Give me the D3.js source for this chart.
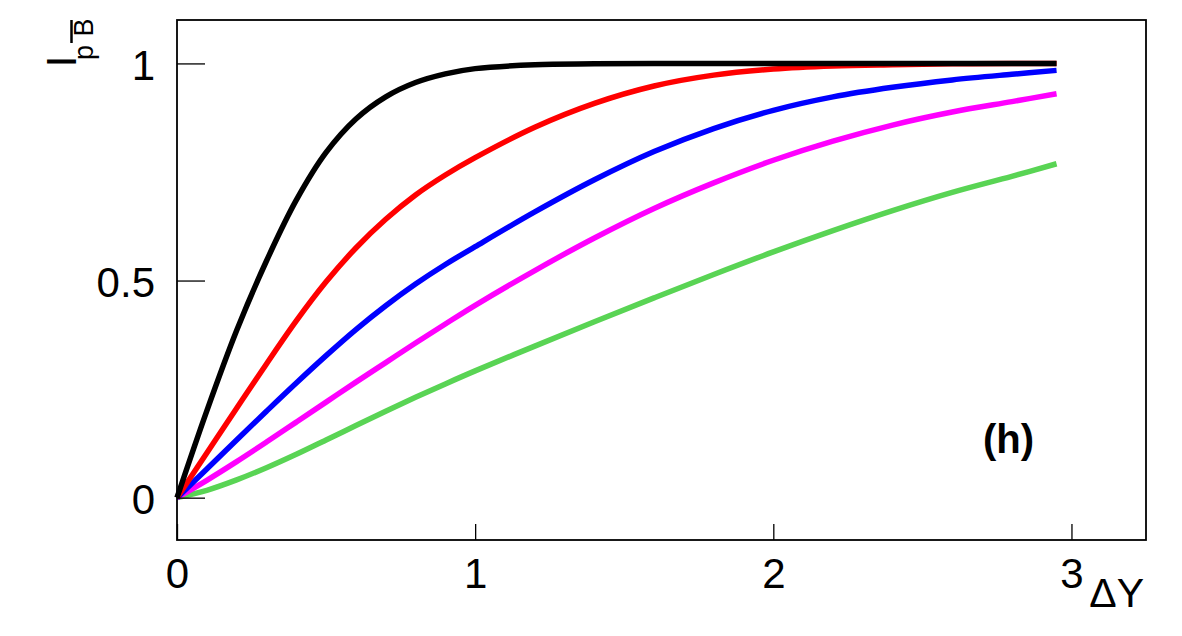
<!DOCTYPE html>
<html>
<head>
<meta charset="utf-8">
<script src="https://cdn.jsdelivr.net/npm/d3@7"></script>
<style>
  html, body { margin: 0; padding: 0; background: #fff; }
  svg { display: block; }
  text { font-family: "Liberation Sans", Arial, Helvetica, sans-serif; }
</style>
</head>
<body>
<svg id="chart" width="1182" height="636"></svg>
<script>
// ---- data ----
const dY = [0, 0.1, 0.2, 0.3, 0.4, 0.5, 0.6, 0.7, 0.8, 0.9, 1.0, 1.2, 1.4, 1.6, 1.8, 2.0, 2.2, 2.4, 2.6, 2.8, 2.95];
const black   = [0, 0.2, 0.385, 0.545, 0.685, 0.795, 0.872, 0.923, 0.956, 0.976, 0.988, 0.997, 0.999, 1, 1, 1, 1, 1, 1, 1, 1];
const red     = [0, 0.103, 0.206, 0.308, 0.407, 0.497, 0.575, 0.641, 0.697, 0.743, 0.783, 0.853, 0.908, 0.948, 0.973, 0.987, 0.994, 0.997, 0.999, 1, 1];
const blue    = [0, 0.066, 0.133, 0.199, 0.264, 0.327, 0.387, 0.442, 0.492, 0.537, 0.578, 0.658, 0.732, 0.797, 0.85, 0.892, 0.923, 0.945, 0.962, 0.975, 0.984];
const magenta = [0, 0.04, 0.083, 0.128, 0.174, 0.22, 0.266, 0.311, 0.356, 0.4, 0.443, 0.523, 0.598, 0.666, 0.725, 0.777, 0.821, 0.858, 0.888, 0.912, 0.93];
const green   = [0, 0.017, 0.041, 0.069, 0.1, 0.133, 0.166, 0.199, 0.231, 0.262, 0.292, 0.349, 0.405, 0.46, 0.514, 0.566, 0.615, 0.661, 0.703, 0.74, 0.769];
const seriesNames  = ["black", "red", "blue", "magenta", "green"];
const seriesColors = ["#000000", "#ff0000", "#0000ff", "#ff00ff", "#59d454"];
const xTicks = [0, 1, 2, 3];
const yTicks = [0, 0.5, 1];
const xTitle = "ΔY";
const panelLabel = "(h)";

const seriesValues = [black, red, blue, magenta, green];

// ---- layout ----
const svg = d3.select("#chart");
const L = 177, R = 1146, T = 20, B = 540;
const x = d3.scaleLinear().domain([0, 3.25]).range([L, R]);
const y = d3.scaleLinear().domain([-0.0975, 1.1]).range([B, T]);

svg.append("rect").attr("width", 1182).attr("height", 636).attr("fill", "#fff");

// curves
const line = d3.line().x(d => x(d[0])).y(d => y(d[1])).curve(d3.curveCatmullRom.alpha(0.5));
const order = [4, 3, 2, 1, 0];
order.forEach(i => {
  const pts = dY.map((v, j) => [v, seriesValues[i][j]]);
  svg.append("path")
    .datum(pts)
    .attr("d", line)
    .attr("fill", "none")
    .attr("stroke", seriesColors[i])
    .attr("stroke-width", 5.5)
    .attr("stroke-linejoin", "round")
    .attr("stroke-linecap", "butt");
});

// axes
const fontSize = 42;
const xAxis = d3.axisBottom(x).tickValues(xTicks).tickFormat(d3.format("d")).tickSize(-16).tickPadding(18);
const gx = svg.append("g").attr("transform", `translate(0,${B})`).call(xAxis);
gx.select(".domain").remove();
gx.selectAll(".tick line").attr("stroke", "#000").attr("stroke-width", 1.3);
gx.selectAll(".tick text").attr("font-size", fontSize).attr("fill", "#000")
  .attr("font-family", "'Liberation Sans', Arial, sans-serif");

const yAxis = d3.axisLeft(y).tickValues(yTicks).tickFormat(d => d === 0.5 ? "0.5" : String(d)).tickSize(-28).tickPadding(22);
const gy = svg.append("g").attr("transform", `translate(${L},0)`).call(yAxis);
gy.select(".domain").remove();
gy.selectAll(".tick line").attr("stroke", "#000").attr("stroke-width", 1.3);
gy.selectAll(".tick text").attr("font-size", fontSize).attr("fill", "#000").attr("dy", "0.38em")
  .attr("font-family", "'Liberation Sans', Arial, sans-serif");

// frame
svg.append("rect")
  .attr("x", L).attr("y", T).attr("width", R - L).attr("height", B - T)
  .attr("fill", "none").attr("stroke", "#000").attr("stroke-width", 1.8);

// x title
svg.append("text")
  .attr("x", 1144).attr("y", 607)
  .attr("text-anchor", "end")
  .attr("font-size", 41)
  .attr("fill", "#000")
  .text(xTitle);

// y title: I_{p B-bar}, rotated
const yt = svg.append("g").attr("transform", "rotate(-90)");
yt.append("text").attr("x", -61.5).attr("y", 76).attr("text-anchor", "middle")
  .attr("font-size", 42).attr("fill", "#000").text("I");
yt.append("text").attr("x", -52.5).attr("y", 93).attr("text-anchor", "middle")
  .attr("font-size", 27).attr("fill", "#000").text("p");
yt.append("text").attr("x", -27.5).attr("y", 93).attr("text-anchor", "middle")
  .attr("font-size", 27).attr("fill", "#000").text("B");
yt.append("line").attr("x1", -20).attr("x2", -43).attr("y1", 71.5).attr("y2", 71.5)
  .attr("stroke", "#000").attr("stroke-width", 2.5);

// panel label
svg.append("text")
  .attr("x", 983).attr("y", 453)
  .attr("font-size", 40)
  .attr("font-weight", "bold")
  .attr("fill", "#000")
  .text(panelLabel);
</script>
</body>
</html>
